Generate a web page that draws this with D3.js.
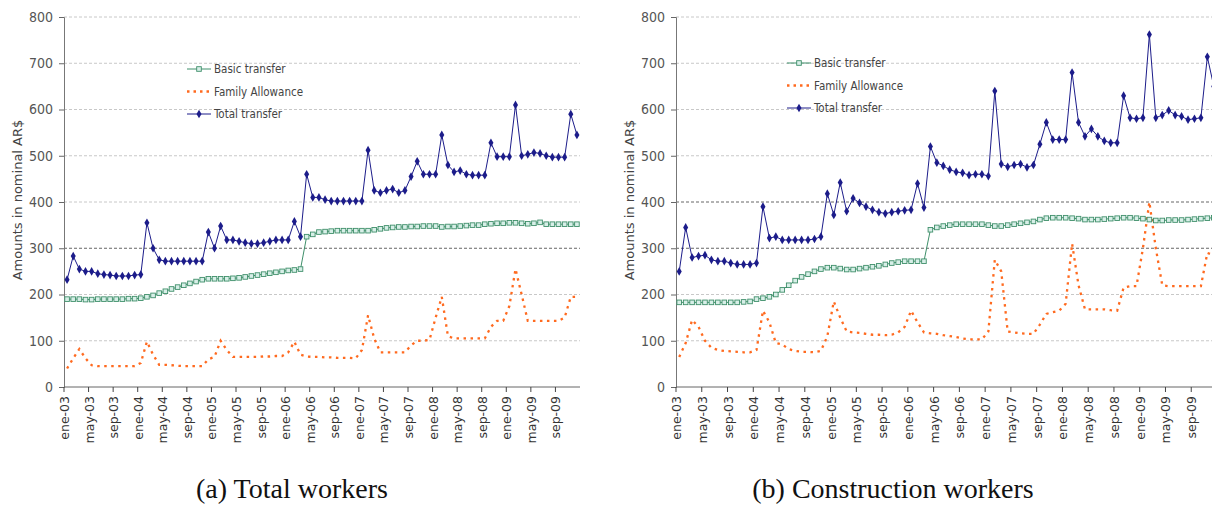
<!DOCTYPE html>
<html>
<head>
<meta charset="utf-8">
<script src="https://cdn.jsdelivr.net/npm/d3@7"></script>
<style>
  body { margin: 0; background: #fff; }
  svg { display: block; }
</style>
</head>
<body>
<svg id="chart" width="1212" height="512"></svg>
<script>
// month labels ene-03 .. dic-09 (84 months), ticks every 4 months
const monthNames = ["ene", "feb", "mar", "abr", "may", "jun", "jul", "ago", "sep", "oct", "nov", "dic"];
const months = d3.range(84).map(i => monthNames[i % 12] + "-0" + (3 + Math.floor(i / 12)));
const tickMonths = months.filter((m, i) => i % 4 === 0);
const yTicks = [0, 100, 200, 300, 400, 500, 600, 700, 800];
const seriesNames = ["Basic transfer", "Family Allowance", "Total transfer"];

// (a) Total workers
const basicA = [190,190,190,189,189,190,190,190,190,190,191,191,
  192,195,198,203,207,212,216,220,224,228,232,234,
  234,234,234,235,236,238,240,242,244,246,248,250,
  252,253,255,325,330,335,336,337,338,338,338,338,
  338,338,340,342,344,345,346,346,347,347,348,348,
  348,346,347,347,348,349,350,350,352,353,354,354,
  355,355,354,353,354,356,352,352,352,352,352,352];
const familyA = [40,62,82,62,47,45,45,45,45,45,45,45,
  52,98,70,48,48,47,46,45,45,45,45,60,
  65,100,80,65,65,65,65,65,66,66,67,67,
  75,98,70,66,65,65,64,64,63,63,63,62,
  80,155,105,75,75,75,75,75,90,100,100,102,
  150,195,110,105,105,105,105,105,105,130,143,143,
  175,255,200,143,143,143,143,143,143,150,195,195];
const totalA = [232,283,255,250,250,245,243,242,240,240,240,242,
  243,355,300,275,272,272,272,272,272,272,272,335,
  300,348,318,318,315,312,310,310,312,315,318,318,
  318,358,325,460,410,410,405,402,402,402,402,402,
  402,512,425,420,425,428,420,425,455,488,460,460,
  460,545,480,465,468,460,458,458,458,528,498,498,
  498,610,500,503,507,505,500,497,497,497,590,545];

// (b) Construction workers
const basicB = [183,183,183,183,183,183,183,183,183,183,184,185,
  190,192,195,200,210,220,230,238,244,250,255,258,
  258,256,254,254,256,258,260,262,265,268,270,272,
  272,272,272,340,345,348,350,352,352,352,352,352,
  350,348,348,350,352,354,356,358,362,365,366,366,
  366,365,364,362,362,362,363,364,365,366,366,365,
  364,362,360,360,361,361,361,362,363,364,365,366];
const familyB = [65,95,145,130,100,85,80,78,77,76,75,75,
  80,165,140,95,92,82,78,76,76,75,78,110,
  185,150,120,118,117,115,113,113,112,113,118,130,
  165,140,118,116,115,112,110,108,105,103,103,103,
  120,275,250,120,118,116,115,115,135,158,162,165,
  180,310,220,168,168,168,168,166,165,215,218,218,
  300,400,300,220,218,218,218,218,218,218,290,285];
const totalB = [250,345,280,283,285,275,272,272,268,265,265,265,
  268,390,322,325,318,318,318,318,318,320,325,418,
  372,442,380,408,398,390,383,378,375,378,380,382,
  383,440,388,520,485,478,470,465,463,458,460,460,
  456,640,482,476,480,482,475,480,525,572,535,535,
  535,680,572,542,558,542,532,528,528,630,582,580,
  582,762,582,588,598,588,585,578,580,582,714,650];

const svg = d3.select("#chart");
const colors = { basic: "#3f8f6a", family: "#ff6a1f", total: "#1c1c8a" };

function drawPanel(cfg) {
  const x = d3.scaleBand().domain(months).range([cfg.x0, cfg.x1]);
  const y = d3.scaleLinear().domain([0, 800]).range([387, 17]);
  const cx = m => x(m) + x.bandwidth() / 2;
  const g = svg.append("g");

  // gridlines
  g.append("g").selectAll("line").data(yTicks.slice(1)).join("line")
    .attr("x1", cfg.x0).attr("x2", cfg.x1)
    .attr("y1", d => y(d)).attr("y2", d => y(d))
    .attr("stroke", d => cfg.darkGrid.includes(d) ? "#666" : "#c8c8c8")
    .attr("stroke-width", 1)
    .attr("stroke-dasharray", "3,2");

  // y axis
  const ya = g.append("g").attr("transform", `translate(${cfg.x0},0)`)
    .call(d3.axisLeft(y).tickValues(yTicks).tickSize(5).tickPadding(6));
  ya.select(".domain").attr("stroke", "#777");
  ya.selectAll(".tick line").attr("stroke", "#666");
  ya.selectAll("text").attr("font-family", "Liberation Sans Narrow, DejaVu Sans Condensed, sans-serif")
    .attr("font-size", 14).attr("fill", "#555");

  // x axis
  const xa = g.append("g").attr("transform", "translate(0,387)");
  xa.append("line").attr("x1", cfg.x0).attr("x2", cfg.x1).attr("stroke", "#666");
  const xt = xa.selectAll("g").data(tickMonths).join("g")
    .attr("transform", d => `translate(${x(d)},0)`);
  xt.append("line").attr("y2", 5).attr("stroke", "#444");
  xt.append("text")
    .attr("transform", "translate(5,9) rotate(-90)")
    .attr("text-anchor", "end")
    .attr("font-family", "DejaVu Sans, sans-serif")
    .attr("font-size", 12.5).attr("fill", "#333")
    .text(d => d);

  // y label
  g.append("text")
    .attr("transform", `translate(${cfg.x0 - 42},200) rotate(-90)`)
    .attr("text-anchor", "middle")
    .attr("font-family", "DejaVu Sans, sans-serif")
    .attr("font-size", 13).attr("fill", "#444")
    .text("Amounts in nominal AR$");

  const line = d3.line().x((d, i) => cx(months[i])).y(d => y(d));

  g.append("path").datum(cfg.family).attr("d", line)
    .attr("fill", "none").attr("stroke", colors.family)
    .attr("stroke-width", 2.3).attr("stroke-dasharray", "2.5,4.5");

  g.append("path").datum(cfg.basic).attr("d", line)
    .attr("fill", "none").attr("stroke", colors.basic).attr("stroke-width", 1);
  g.append("g").selectAll("rect").data(cfg.basic).join("rect")
    .attr("x", (d, i) => cx(months[i]) - 2.3).attr("y", d => y(d) - 2.3)
    .attr("width", 4.6).attr("height", 4.6)
    .attr("fill", "#d8efe8").attr("stroke", colors.basic).attr("stroke-width", 0.9);

  g.append("path").datum(cfg.total).attr("d", line)
    .attr("fill", "none").attr("stroke", colors.total).attr("stroke-width", 1);
  g.append("g").selectAll("path").data(cfg.total).join("path")
    .attr("d", d3.symbol(d3.symbolDiamond, 22))
    .attr("transform", (d, i) => `translate(${cx(months[i])},${y(d)})`)
    .attr("fill", colors.total);

  // legend
  const lg = g.append("g").attr("transform", `translate(${cfg.lx},${cfg.ly})`);
  const rows = lg.selectAll("g").data(seriesNames).join("g")
    .attr("transform", (d, i) => `translate(0,${i * 22.5})`);
  rows.append("line").attr("x1", 0).attr("x2", 24)
    .attr("stroke", (d, i) => [colors.basic, colors.family, colors.total][i])
    .attr("stroke-width", (d, i) => i === 1 ? 2.5 : 1)
    .attr("stroke-dasharray", (d, i) => i === 1 ? "2.5,4" : null);
  rows.filter((d, i) => i === 0).append("rect")
    .attr("x", 9.7).attr("y", -2.3).attr("width", 4.6).attr("height", 4.6)
    .attr("fill", "#d8efe8").attr("stroke", colors.basic).attr("stroke-width", 0.9);
  rows.filter((d, i) => i === 2).append("path")
    .attr("d", d3.symbol(d3.symbolDiamond, 22)).attr("transform", "translate(12,0)")
    .attr("fill", colors.total);
  rows.append("text").attr("x", 27).attr("dy", "0.35em")
    .attr("font-family", "Liberation Sans Narrow, DejaVu Sans Condensed, sans-serif")
    .attr("font-size", 11.5).attr("fill", "#444")
    .text(d => d);

  // caption
  svg.append("text").attr("x", cfg.capX).attr("y", 498)
    .attr("text-anchor", "middle")
    .attr("font-family", "Liberation Serif, serif")
    .attr("font-size", 28).attr("fill", "#111")
    .text(cfg.caption);
}

drawPanel({ x0: 64, x1: 580, basic: basicA, family: familyA, total: totalA,
  darkGrid: [300], lx: 187, ly: 69, capX: 292, caption: "(a) Total workers" });
drawPanel({ x0: 676, x1: 1217, basic: basicB, family: familyB, total: totalB,
  darkGrid: [300, 400], lx: 787, ly: 63, capX: 893, caption: "(b) Construction workers" });
</script>
</body>
</html>
